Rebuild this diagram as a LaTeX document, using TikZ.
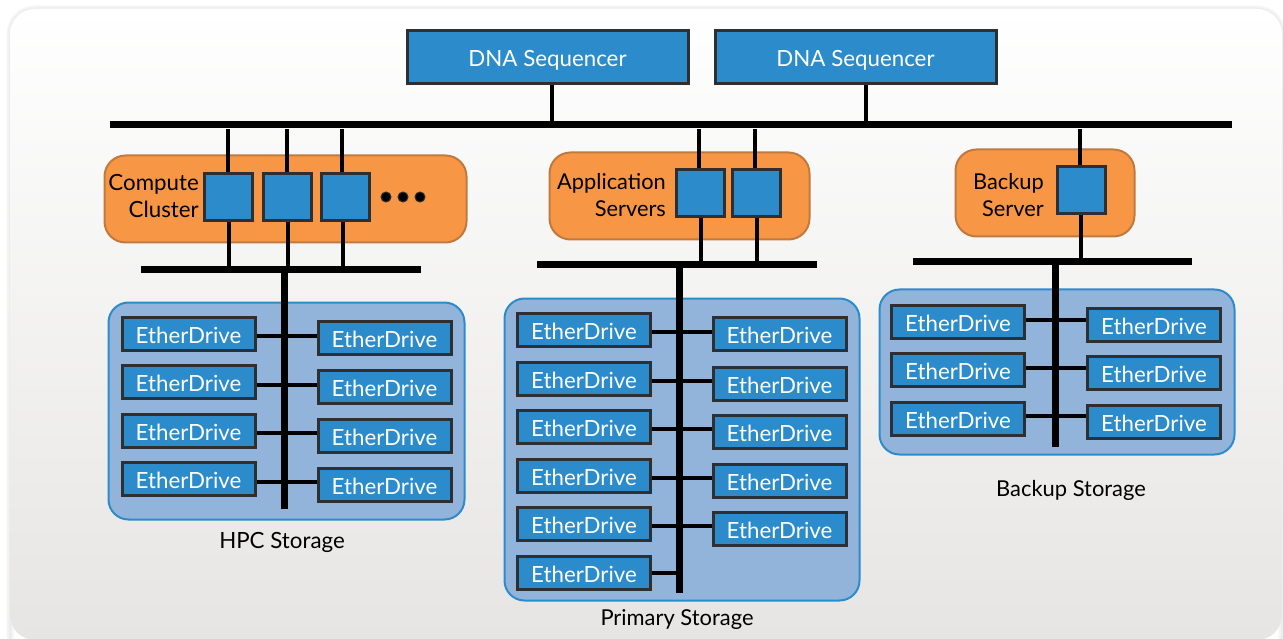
\documentclass[tikz,border=0pt]{standalone}
\usepackage{fontspec}
\setmainfont{Lato}
\definecolor{nodeblue}{HTML}{2B8BCB}
\definecolor{edgedark}{HTML}{2D2F33}
\definecolor{orangefill}{HTML}{F79745}
\definecolor{orangeedge}{HTML}{C17A3E}
\definecolor{panelfill}{HTML}{92B4DA}
\definecolor{paneledge}{HTML}{2C8BCB}
\definecolor{bgbottom}{HTML}{E6E5E3}
\tikzset{
  boxbase/.style={draw=edgedark,line width=3pt,fill=nodeblue,inner sep=0pt,text=white,font=\fontsize{22.3}{24}\selectfont},
  drivebox/.style={boxbase,minimum width=133pt,minimum height=33pt,text height=19pt,text depth=0pt},
  seqbox/.style={boxbase,minimum width=281pt,minimum height=53pt,text height=19pt,text depth=0pt},
  hostbox/.style={boxbase,minimum width=48pt,minimum height=47pt},
  groupbox/.style={draw=orangeedge,line width=2pt,fill=orangefill,rounded corners=21pt,inner sep=0pt},
  storepanel/.style={draw=paneledge,line width=2pt,fill=panelfill,rounded corners=20pt,inner sep=0pt},
  grouplabel/.style={align=right,anchor=east,inner sep=0pt,text=black,font=\fontsize{22.3}{27}\selectfont},
  caption/.style={inner sep=0pt,text=black,font=\fontsize{21.9}{24}\selectfont},
  bus/.style={line width=7pt,black},
  thickdrop/.style={line width=4.5pt,black},
  drivelink/.style={line width=3.5pt,black},
  dotmark/.style={circle,fill=black,draw=edgedark,line width=1pt,minimum size=10pt,inner sep=0pt},
}
\begin{document}
\begin{tikzpicture}[x=1pt,y=-1pt]
\useasboundingbox (0,0) rectangle (1283,639);
% backdrop
\draw[black!4,line width=7pt,rounded corners=25pt] (10,9) rectangle (1282,660);
\draw[black!7,line width=3pt,rounded corners=25pt] (10,9) rectangle (1282,660);
\path[rounded corners=25pt,top color=white,bottom color=bgbottom] (10,9) rectangle (1282,640);
% group and storage panels
\node[groupbox,minimum width=362pt,minimum height=87pt] (computegroup) at (285.5,199) {};
\node[groupbox,minimum width=260pt,minimum height=87pt] (appgroup) at (679.5,196) {};
\node[groupbox,minimum width=179pt,minimum height=87pt] (backupgroup) at (1045,193) {};
\node[storepanel,minimum width=356pt,minimum height=217pt] (hpcpanel) at (286.5,411) {};
\node[storepanel,minimum width=355pt,minimum height=302pt] (primarypanel) at (682,449.5) {};
\node[storepanel,minimum width=355pt,minimum height=165pt] (backuppanel) at (1057,372) {};
% sequencers
\node[seqbox] (seqa) at (547.5,57.5) {DNA Sequencer};
\node[seqbox] (seqb) at (855.5,57.5) {DNA Sequencer};
% hosts
\node[hostbox] (ca) at (228.5,197) {};
\node[hostbox] (cb) at (287.5,197) {};
\node[hostbox] (cc) at (345.5,197) {};
\node[hostbox] (aa) at (700,193) {};
\node[hostbox] (ab) at (756.5,193) {};
\node[hostbox] (ba) at (1081.5,190) {};
\node[dotmark] (da) at (386,197) {};
\node[dotmark] (db) at (403,197) {};
\node[dotmark] (dc) at (420,197) {};
% group labels
\node[grouplabel] (computelabel) at (199,196) {Compute\\Cluster};
\node[grouplabel,font=\fontsize{21.8}{27}\selectfont] (applabel) at (666,195.5) {Application\\Servers};
\node[grouplabel,font=\fontsize{21.8}{27}\selectfont] (backuplabel) at (1044,195) {Backup\\Server};
% HPC drives
\foreach \n/\y in {1/334,2/382,3/431,4/479} \node[drivebox] (hl\n) at (188.5,\y) {EtherDrive};
\foreach \n/\y in {1/338,2/387,3/436,4/485} \node[drivebox] (hr\n) at (384.5,\y) {EtherDrive};
% primary drives
\foreach \n/\y in {1/330,2/379,3/427,4/476,5/524,6/573} \node[drivebox] (pl\n) at (584,\y) {EtherDrive};
\foreach \n/\y in {1/334,2/384,3/432,4/481,5/529} \node[drivebox] (pr\n) at (779.5,\y) {EtherDrive};
% backup drives
\foreach \n/\y in {1/322,2/370,3/419} \node[drivebox] (bl\n) at (958,\y) {EtherDrive};
\foreach \n/\y in {1/325,2/373,3/422} \node[drivebox] (br\n) at (1154,\y) {EtherDrive};
% captions
\node[caption,font=\fontsize{22.3}{24}\selectfont] (hpccap) at (282,542) {HPC Storage};
\node[caption] (primcap) at (677,620) {Primary Storage};
\node[caption] (backcap) at (1071,490) {Backup Storage};
% bus end points
\coordinate (mainl) at (110,124.5);
\coordinate (mainr) at (1232,124.5);
\coordinate (hbusl) at (141,270);
\coordinate (hbusr) at (421,270);
\coordinate (pbusl) at (537,265);
\coordinate (pbusr) at (817,265);
\coordinate (bbusl) at (913,262);
\coordinate (bbusr) at (1192,262);
\coordinate (hvtop) at (284.5,270);
\coordinate (hvend) at (284.5,509);
\coordinate (pvtop) at (679.5,265);
\coordinate (pvend) at (679.5,593);
\coordinate (bvtop) at (1055.5,262);
\coordinate (bvend) at (1055.5,447);
% buses
\draw[bus] (mainl) -- (mainr);
\draw[bus] (hbusl) -- (hbusr);
\draw[bus] (pbusl) -- (pbusr);
\draw[bus] (bbusl) -- (bbusr);
\draw[bus] (hvtop) -- (hvend);
\draw[bus] (pvtop) -- (pvend);
\draw[bus] (bvtop) -- (bvend);
% sequencer links
\draw[thickdrop] (seqa.south) ++(4.5,0) coordinate (sa) -- (sa |- mainl);
\draw[thickdrop] (seqb.south) ++(10.5,0) coordinate (sb) -- (sb |- mainl);
% host links, top
\foreach \h/\x in {ca/228,cb/287,cc/342,aa/699,ab/755,ba/1080}{
  \coordinate (t) at (\x,129);
  \draw[thickdrop] (t) -- (t |- \h.north);
}
% host links, bottom
\foreach \h/\x/\b in {ca/229/hbusl,cb/288/hbusl,cc/343/hbusl,aa/701/pbusl,ab/757/pbusl,ba/1081/bbusl}{
  \coordinate (t) at (\x,230);
  \draw[thickdrop] (t |- \h.south) -- (t |- \b);
}
% drive links
\foreach \l/\r/\y in {hl1/hr1/336,hl2/hr2/385,hl3/hr3/433,hl4/hr4/482,
                      pl1/pr1/332,pl2/pr2/381,pl3/pr3/429,pl4/pr4/478,pl5/pr5/526,
                      bl1/br1/320,bl2/br2/368,bl3/br3/416}{
  \coordinate (t) at (500,\y);
  \draw[drivelink] (\l.east |- t) -- (\r.west |- t);
}
\coordinate (t) at (500,573);
\draw[drivelink] (pl6.east |- t) -- (pvtop |- t);
\end{tikzpicture}
\end{document}
